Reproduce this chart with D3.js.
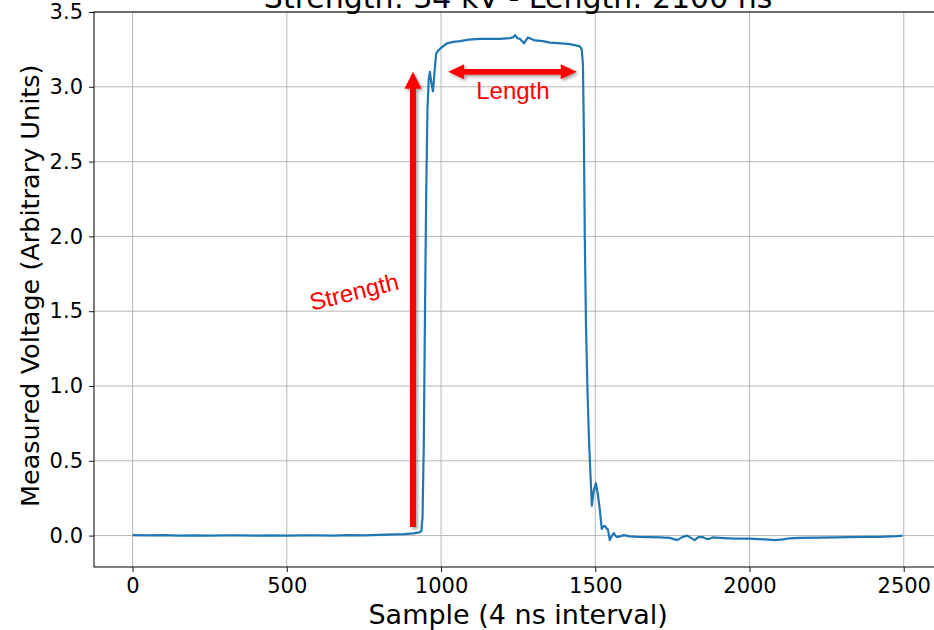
<!DOCTYPE html>
<html>
<head>
<meta charset="utf-8">
<script src="https://cdn.jsdelivr.net/npm/d3@7"></script>
<style>
  body { margin: 0; background: #fff; }
  text { font-family: "DejaVu Sans", sans-serif; }
</style>
</head>
<body>
<div id="chart"></div>
<script>
// pulse trace (sample index, measured voltage)
const samples = [0, 50, 100, 150, 200, 250, 300, 350, 400, 450, 500, 550, 600, 650, 700, 750, 800, 850, 880, 910, 930,
  936, 940, 944, 948, 952, 956, 960, 964, 969, 974, 979, 984, 990, 1000, 1019, 1040, 1062, 1090, 1126, 1160, 1191, 1223,
  1233, 1240, 1248, 1256, 1263, 1269, 1275, 1282, 1304, 1330, 1353, 1390, 1418, 1440, 1450, 1456, 1460, 1463, 1466,
  1470, 1475, 1480, 1485, 1489, 1495, 1502, 1508, 1515, 1521, 1526, 1531, 1536, 1541, 1547, 1553, 1560, 1565, 1570,
  1580, 1592, 1612, 1640, 1676, 1710, 1741, 1766, 1782, 1798, 1810, 1822, 1835, 1848, 1860, 1870, 1880, 1903, 1950,
  2000, 2049, 2082, 2110, 2130, 2162, 2227, 2280, 2325, 2380, 2422, 2460, 2480, 2496];
const voltage = [0.003, 0.001, 0.003, 0.0, 0.002, 0.0, 0.002, 0.001, 0.0, 0.002, 0.0, 0.001, 0.002, 0.0, 0.003, 0.002, 0.005, 0.008, 0.01, 0.015, 0.022,
  0.03, 0.12, 0.6, 1.5, 2.3, 2.85, 3.05, 3.1, 3.02, 2.97, 3.1, 3.22, 3.24, 3.26, 3.29, 3.3, 3.305, 3.315, 3.32, 3.32, 3.32, 3.325,
  3.33, 3.345, 3.325, 3.32, 3.305, 3.29, 3.31, 3.33, 3.31, 3.305, 3.295, 3.29, 3.285, 3.275, 3.27, 3.25, 3.15, 2.7, 2.0,
  1.4, 0.95, 0.62, 0.38, 0.2, 0.3, 0.35, 0.28, 0.17, 0.045, 0.06, 0.065, 0.05, 0.04, -0.03, -0.005, 0.017, 0.0, -0.01,
  -0.005, 0.003, -0.005, -0.008, -0.01, -0.012, -0.015, -0.03, -0.01, 0.0, -0.015, -0.03, -0.01, -0.01, -0.022, -0.022, -0.012, -0.015, -0.02,
  -0.02, -0.025, -0.03, -0.025, -0.018, -0.015, -0.013, -0.012, -0.01, -0.009, -0.008, -0.005, -0.003, 0.0];

const xTicks = [0, 500, 1000, 1500, 2000, 2500];
const yTicks = [0.0, 0.5, 1.0, 1.5, 2.0, 2.5, 3.0, 3.5];

const titleText = "Strength: 34 kV - Length: 2100 ns";
const xLabel = "Sample (4 ns interval)";
const yLabel = "Measured Voltage (Arbitrary Units)";

// annotation anchors in data units
const strengthArrow = { x: 909, y0: 0.057, y1: 3.1 };
const lengthArrow = { x0: 1023, x1: 1440, y: 3.1 };
const lengthLabel = { x: 1233, y: 2.92, text: "Length" };
const strengthLabel = { x: 718, y: 1.63, text: "Strength" };

const margin = { top: 12, left: 94 };
const width = 848, height = 555;

const svg = d3.select("#chart").append("svg")
  .attr("width", 934)
  .attr("height", 630);

const defs = svg.append("defs");
const shadow = defs.append("filter").attr("id", "shadow")
  .attr("x", "-50%").attr("y", "-50%").attr("width", "200%").attr("height", "200%");
shadow.append("feDropShadow")
  .attr("dx", 2).attr("dy", 2)
  .attr("stdDeviation", 1.5)
  .attr("flood-color", "#000")
  .attr("flood-opacity", 0.35);

const g = svg.append("g")
  .attr("transform", `translate(${margin.left},${margin.top})`);

const x = d3.scaleLinear().domain([-125, 2624]).range([0, width]);
const y = d3.scaleLinear().domain([-0.21, 3.5]).range([height, 0]);

// grid
g.append("g").selectAll("line").data(xTicks).join("line")
  .attr("x1", d => x(d)).attr("x2", d => x(d))
  .attr("y1", 0).attr("y2", height)
  .attr("stroke", "#b0b0b0").attr("stroke-width", 0.9);
g.append("g").selectAll("line").data(yTicks).join("line")
  .attr("x1", 0).attr("x2", width)
  .attr("y1", d => y(d)).attr("y2", d => y(d))
  .attr("stroke", "#b0b0b0").attr("stroke-width", 0.9);

// axes
const xAxis = g.append("g")
  .attr("transform", `translate(0,${height})`)
  .call(d3.axisBottom(x).tickValues(xTicks).tickSize(5).tickPadding(5).tickFormat(d3.format("d")));
const yAxis = g.append("g")
  .call(d3.axisLeft(y).tickValues(yTicks).tickSize(5).tickPadding(6).tickFormat(d3.format(".1f")));

[xAxis, yAxis].forEach(a => {
  a.select(".domain").remove();
  a.selectAll("line").attr("stroke", "#000").attr("stroke-width", 0.9);
  a.selectAll("text").style("font-family", "DejaVu Sans").style("font-size", "21px").attr("fill", "#000");
});
xAxis.selectAll("text").attr("y", 26).attr("dy", 0);

// spines
g.append("rect")
  .attr("x", 0).attr("y", 0).attr("width", width).attr("height", height)
  .attr("fill", "none").attr("stroke", "#000").attr("stroke-width", 1);

// trace
const points = samples.map((s, i) => [s, voltage[i]]);
g.append("path")
  .datum(points)
  .attr("fill", "none")
  .attr("stroke", "#1f77b4")
  .attr("stroke-width", 2.2)
  .attr("stroke-linejoin", "round")
  .attr("d", d3.line().x(d => x(d[0])).y(d => y(d[1])));

// labels
svg.append("text")
  .attr("x", margin.left + x(1250)).attr("y", 8)
  .attr("text-anchor", "middle")
  .style("font-size", "30px")
  .text(titleText);

svg.append("text")
  .attr("x", margin.left + x(1250)).attr("y", 624)
  .attr("text-anchor", "middle")
  .style("font-size", "27px")
  .text(xLabel);

svg.append("text")
  .attr("transform", `translate(39,${margin.top + y(1.67)}) rotate(-90)`)
  .attr("text-anchor", "middle")
  .style("font-size", "25.5px")
  .text(yLabel);

// red annotations
const red = "#ff0000";
const ann = g.append("g").attr("filter", "url(#shadow)");

// vertical arrow (Strength)
{
  const cx = x(strengthArrow.x), yb = y(strengthArrow.y0), yt = y(strengthArrow.y1);
  const sw = 3, hw = 8.5, hl = 17;
  ann.append("path")
    .attr("fill", red)
    .attr("d", `M${cx - sw},${yb} L${cx - sw},${yt + hl} L${cx - hw},${yt + hl} L${cx},${yt} L${cx + hw},${yt + hl} L${cx + sw},${yt + hl} L${cx + sw},${yb} Z`);
}

// double arrow (Length)
{
  const xl = x(lengthArrow.x0), xr = x(lengthArrow.x1), cy = y(lengthArrow.y);
  const sw = 2.8, hw = 7.5, hl = 16;
  ann.append("path")
    .attr("fill", red)
    .attr("d", `M${xl},${cy} L${xl + hl},${cy - hw} L${xl + hl},${cy - sw} L${xr - hl},${cy - sw} L${xr - hl},${cy - hw} L${xr},${cy} L${xr - hl},${cy + hw} L${xr - hl},${cy + sw} L${xl + hl},${cy + sw} L${xl + hl},${cy + hw} Z`);
}

g.append("text")
  .attr("x", x(lengthLabel.x)).attr("y", y(lengthLabel.y))
  .attr("text-anchor", "middle")
  .attr("fill", red)
  .style("font-family", "Liberation Sans, Arial, sans-serif")
  .style("font-size", "24px")
  .text(lengthLabel.text);

g.append("text")
  .attr("transform", `translate(${x(strengthLabel.x)},${y(strengthLabel.y)}) rotate(-14)`)
  .attr("text-anchor", "middle")
  .attr("dy", "0.35em")
  .attr("fill", red)
  .style("font-family", "Liberation Sans, Arial, sans-serif")
  .style("font-size", "24px")
  .text(strengthLabel.text);
</script>
</body>
</html>
